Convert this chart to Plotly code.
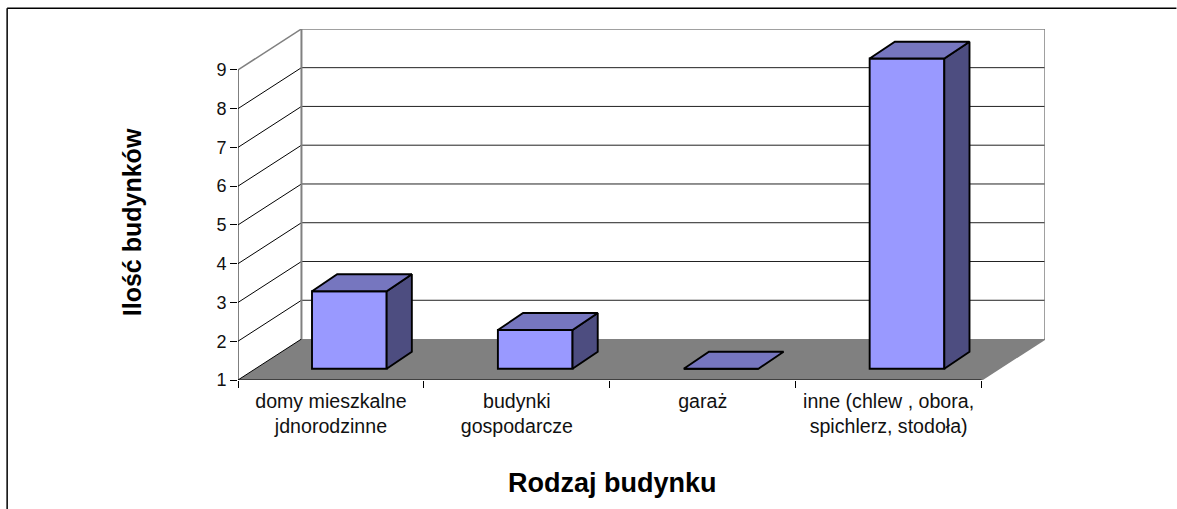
import plotly.graph_objects as go

# --- data ---
categories = ["domy mieszkalne<br>jdnorodzinne", "budynki<br>gospodarcze", "garaż",
              "inne (chlew , obora,<br>spichlerz, stodoła)"]
values = [3, 2, 1, 9]
y_ticks = [1, 2, 3, 4, 5, 6, 7, 8, 9]
x_title = "Rodzaj budynku"
y_title = "Ilość budynków"

# --- pseudo-3D geometry, in axis units ---
W, H = 1177, 509
L, R, T, B = 238, 131.5, 28.7, 129
PX_X = 186.0   # pixels per category
PX_Y = 38.8    # pixels per value unit
WALL_DX, WALL_DY = 63.5 / PX_X, 41.0 / PX_Y
BAR_OFF_X, BAR_OFF_Y = 18.4 / PX_X, 11.3 / PX_Y
BAR_DX, BAR_DY = 25.2 / PX_X, 16.9 / PX_Y
BAR_W = 74.7 / PX_X
X0, X1 = -0.5, len(categories) - 0.5
Y0, Y1 = y_ticks[0], y_ticks[-1]
x_range = [X0, X0 + (W - L - R) / PX_X]
y_range = [Y0, Y0 + (H - T - B) / PX_Y]

FRONT, TOP, SIDE = "#9999FF", "#7676BF", "#4D4D80"
GREY = "#808080"
EDGE = 1.9


def path(points):
    return "M " + " L ".join(f"{x},{y}" for x, y in points) + " Z"


def line(x0, y0, x1, y1, color="black", width=1):
    return dict(type="line", xref="x", yref="y", x0=x0, y0=y0, x1=x1, y1=y1,
                layer="below", line=dict(color=color, width=width))


shapes = [
    # floor
    dict(type="path", xref="x", yref="y", layer="below", fillcolor=GREY, line=dict(width=0),
         path=path([(X0, Y0), (X1, Y0), (X1 + WALL_DX, Y0 + WALL_DY), (X0 + WALL_DX, Y0 + WALL_DY)])),
]
# gridlines on the back wall and the side wall
for t in y_ticks[:-1]:
    shapes.append(line(X0, t, X0 + WALL_DX, t + WALL_DY))
    if t != Y0:
        shapes.append(line(X0 + WALL_DX, t + WALL_DY, X1 + WALL_DX, t + WALL_DY, "#222222", 1))
# wall edges
shapes += [
    line(X0, Y1, X0 + WALL_DX, Y1 + WALL_DY, GREY, 1.5),
    line(X0 + WALL_DX, Y1 + WALL_DY, X1 + WALL_DX, Y1 + WALL_DY, GREY, 1.5),
    line(X0 + WALL_DX, Y0 + WALL_DY, X0 + WALL_DX, Y1 + WALL_DY, GREY, 2),
    line(X1 + WALL_DX, Y0 + WALL_DY, X1 + WALL_DX, Y1 + WALL_DY, GREY, 1.5),
    line(X1, Y0, X1 + WALL_DX, Y0 + WALL_DY, GREY, 1.5),
    # front axis lines
    line(X0, Y0, X0, Y1, "black", 1),
    line(X0, Y0, X1, Y0, "black", 1),
]
# outer chart frame (left and top edges only)
fx = (7 - L) / (W - L - R)
fy_top = (H - B - 8) / (H - T - B)
fy_bot = (H - B - H) / (H - T - B)
fx_r = (W - L) / (W - L - R)
for x0, y0, x1, y1 in [(fx, fy_bot, fx, fy_top), (fx, fy_top, fx_r, fy_top)]:
    shapes.append(dict(type="line", xref="paper", yref="paper", x0=x0, y0=y0, x1=x1, y1=y1,
                       line=dict(color="black", width=1.5)))

fig = go.Figure()

# front faces
idx = list(range(len(categories)))
fig.add_trace(go.Bar(
    x=[i + BAR_OFF_X for i in idx],
    y=[v - Y0 for v in values],
    base=[Y0 + BAR_OFF_Y] * len(values),
    width=BAR_W,
    marker=dict(color=FRONT, line=dict(color="black", width=EDGE)),
    showlegend=False, hoverinfo="skip",
))

# side and top faces
for i, v in zip(idx, values):
    xl = i + BAR_OFF_X - BAR_W / 2
    xr = i + BAR_OFF_X + BAR_W / 2
    yb = Y0 + BAR_OFF_Y
    yt = v + BAR_OFF_Y
    if v > Y0:
        fig.add_trace(go.Scatter(
            x=[xr, xr + BAR_DX, xr + BAR_DX, xr, xr],
            y=[yb, yb + BAR_DY, yt + BAR_DY, yt, yb],
            mode="lines", fill="toself", fillcolor=SIDE,
            line=dict(color="black", width=EDGE), showlegend=False, hoverinfo="skip"))
    fig.add_trace(go.Scatter(
        x=[xl, xr, xr + BAR_DX, xl + BAR_DX, xl],
        y=[yt, yt, yt + BAR_DY, yt + BAR_DY, yt],
        mode="lines", fill="toself", fillcolor=TOP,
        line=dict(color="black", width=EDGE), showlegend=False, hoverinfo="skip"))

FONT = "Liberation Sans, Arial, sans-serif"
fig.update_layout(
    width=W, height=H, autosize=False,
    margin=dict(l=L, r=R, t=T, b=B, pad=0),
    paper_bgcolor="white", plot_bgcolor="white",
    font=dict(family=FONT, size=18, color="black"),
    shapes=shapes,
    barmode="overlay",
    xaxis=dict(range=x_range, showgrid=False, zeroline=False, showline=False,
               tickmode="array", tickvals=idx, ticktext=categories, ticks="", ticklen=0,
               tickangle=0, tickfont=dict(size=19.6, color="#111111"),
               ticklabelstandoff=7,
               minor=dict(ticks="outside", ticklen=7, tickwidth=1, tickcolor="black",
                          tickmode="array", tickvals=[X0 + k for k in range(len(categories) + 1)],
                          showgrid=False)),
    yaxis=dict(range=y_range, showgrid=False, zeroline=False, showline=False,
               tickmode="array", tickvals=y_ticks, ticks="outside", ticklen=7,
               tickwidth=1, tickcolor="black", tickfont=dict(size=18, color="#111111")),
    annotations=[
        dict(text=f"<b>{x_title}</b>", xref="paper", yref="paper",
             x=(613 - L) / (W - L - R), y=(H - B - 483) / (H - T - B),
             xanchor="center", yanchor="middle",
             showarrow=False, font=dict(size=27, family=FONT)),
        dict(text=f"<b>{y_title}</b>", xref="paper", yref="paper",
             x=(132 - L) / (W - L - R), y=(H - B - 222) / (H - T - B),
             xanchor="center", yanchor="middle",
             textangle=-90, showarrow=False, font=dict(size=25, family=FONT)),
    ],
)

fig.write_html("out.html", config={"displayModeBar": False},
               post_script="document.body.style.margin='0';document.body.style.overflow='hidden';")
